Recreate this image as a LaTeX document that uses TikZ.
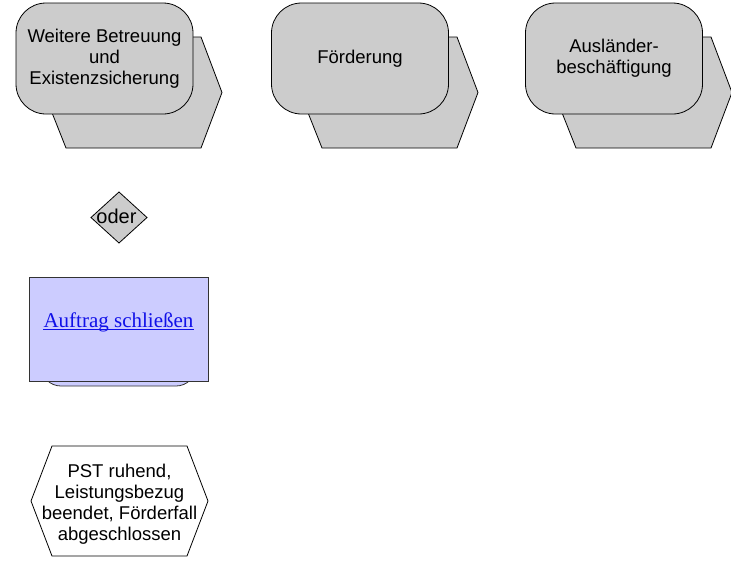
\documentclass[tikz,border=0pt]{standalone}
\usepackage{fontspec}
\setmainfont{Liberation Sans}
\newfontfamily\webserif{Liberation Serif}
\usepackage{tikz}
\definecolor{FuncGray}{HTML}{CCCCCC}
\definecolor{RuleGray}{HTML}{333333}
\definecolor{TaskBlue}{HTML}{CCCCFF}
\definecolor{LinkBlue}{HTML}{1010E8}
\begin{document}
\begin{tikzpicture}[x=1pt, y=-1pt, line width=0.8pt,
    every node/.style={align=center, font=\fontsize{18.5}{21}\selectfont},
    funcbox/.style={draw, fill=FuncGray, rounded corners=30pt, minimum width=177pt, minimum height=111pt, inner sep=0pt},
    ifaceback/.style={draw, fill=FuncGray, line join=miter},
    eventhex/.style={draw, fill=white, line join=miter}]
  \useasboundingbox (0,0) rectangle (731,563);

  % process interfaces
  \draw[ifaceback] (66,37) -- (201,37) -- (222,92.5) -- (201,148) -- (66,148) -- (44,92.5) -- cycle;
  \node[funcbox] (betreuung) at (104.5,58.5) {Weitere Betreuung\\und\\Existenzsicherung};
  \draw[ifaceback] (322,37) -- (457,37) -- (478,92.5) -- (457,148) -- (322,148) -- (300,92.5) -- cycle;
  \node[funcbox] (foerderung) at (360,58.5) {Förderung};
  \draw[ifaceback] (576,37) -- (711,37) -- (732,92.5) -- (711,148) -- (576,148) -- (554,92.5) -- cycle;
  \node[funcbox] (auslaender) at (614,58.5) {Ausländer-\\beschäftigung};

  % rule
  \draw[fill=FuncGray, line join=miter] (119,192) -- (147,217.5) -- (119,243) -- (91,217.5) -- cycle;
  \node[font=\fontsize{20}{22}\selectfont, inner sep=0pt] (oder) at (116.5,216) {oder};

  % function
  \node[draw=RuleGray, fill=TaskBlue, rounded corners=20pt, minimum width=155pt, minimum height=96pt] (auftragback) at (118.5,338) {};
  \node[draw=RuleGray, fill=TaskBlue, minimum width=179pt, minimum height=104pt] (auftrag) at (118.5,329) {};
  \node[font=\webserif\fontsize{21}{24}\selectfont, text=LinkBlue, inner sep=0pt] (auftragtext) at (118.5,322) {Auftrag schließen};
  \draw[LinkBlue, line width=1pt] ([yshift=-2pt]auftragtext.base west) -- ([yshift=-2pt]auftragtext.base east);

  % event
  \draw[eventhex] (52,446) -- (187,446) -- (208,501) -- (187,556) -- (52,556) -- (31,501) -- cycle;
  \node[inner sep=0pt] (ruhend) at (119.5,504) {PST ruhend,\\Leistungsbezug\\beendet, Förderfall\\abgeschlossen};
\end{tikzpicture}
\end{document}
